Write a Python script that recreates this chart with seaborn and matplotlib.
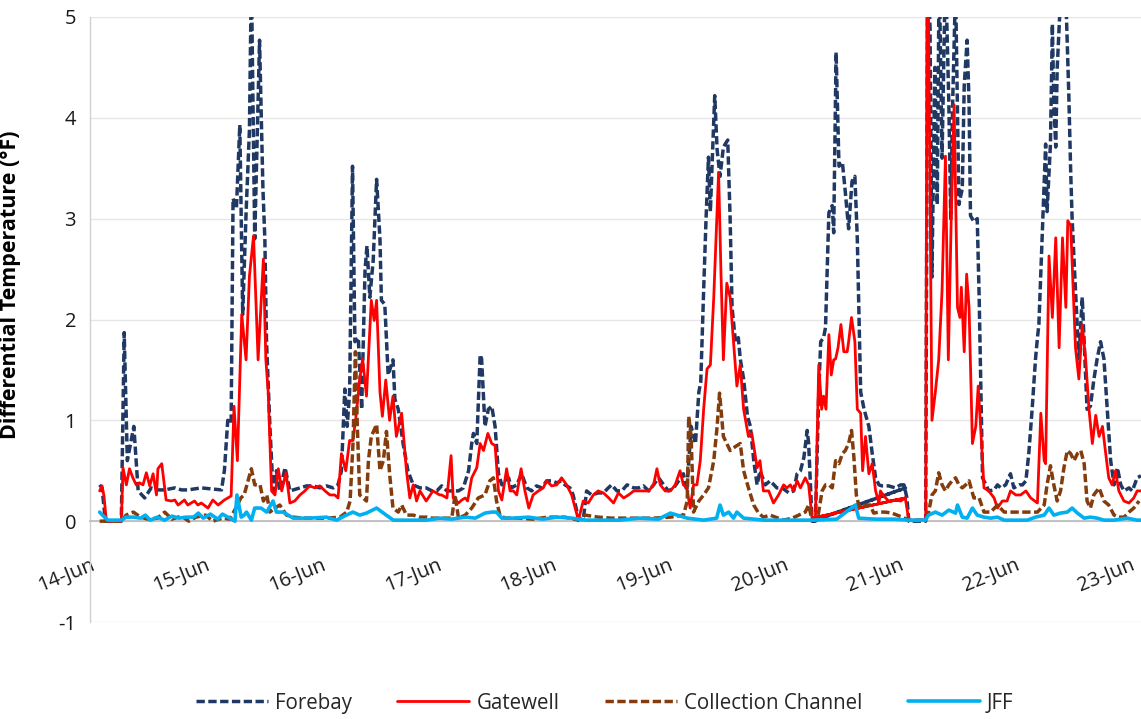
import pandas as pd
import matplotlib
matplotlib.use("Agg")
import matplotlib.pyplot as plt
import matplotlib.dates as mdates
import seaborn as sns

# =============================
# DATA (hours after 14-Jun 00:00, differential temperature in F)
# =============================
START = pd.Timestamp("2019-06-14 00:00")

forebay_hours = [
    2.0, 2.5, 3.2, 6.5, 7.1, 7.75, 9.1, 10.0, 11.35, 12.7, 14.0, 15.5, 17.6, 19.0, 20.3, 21.7,
    23.1, 25.2, 27.3, 27.9, 28.6, 29.3, 29.7, 30.4, 31.1, 31.7, 32.4, 33.1, 33.5, 34.2, 35.2, 35.9,
    36.3, 36.65, 37.35, 38.0, 38.7, 39.4, 40.5, 41.5, 43.6, 45.0, 46.3, 47.7, 49.1, 50.5, 51.5, 52.2,
    52.9, 53.4, 53.9, 54.5, 55.0, 55.7, 56.4, 57.1, 57.5, 58.1, 58.8, 59.5, 60.2, 60.5, 61.2, 61.9,
    62.9, 63.3, 64.0, 65.0, 66.0, 67.1, 68.5, 69.8, 71.0, 72.0, 73.0, 74.1, 75.1, 76.5, 77.5, 78.6,
    79.25, 79.6, 80.3, 81.0, 81.3, 82.0, 82.7, 83.4, 84.1, 84.8, 85.5, 86.2, 86.9, 87.5, 88.6, 89.6,
    90.7, 91.7, 92.7, 93.8, 94.8, 95.85, 96.9, 97.9, 98.6, 99.65, 100.3, 101.4, 102.4, 103.1, 104.15, 105.5,
    106.6, 107.6, 108.3, 109.4, 110.4, 111.5, 112.9, 113.9, 114.9, 116.0, 117.0, 118.05, 119.1, 120.1, 121.2, 122.2,
    123.2, 123.9, 124.8, 125.7, 126.4, 126.8, 127.4, 127.9, 128.4, 128.8, 129.1, 129.7, 130.2, 130.8, 131.5, 132.4,
    132.9, 133.3, 134.0, 134.6, 135.0, 135.7, 136.5, 137.1, 137.8, 138.5, 139.1, 140.2, 141.2, 142.6, 143.7, 145.1,
    146.1, 146.8, 147.5, 148.2, 148.9, 149.2, 149.9, 169.3, 150.0, 150.6, 151.3, 151.7, 152.3, 152.7, 153.4, 154.1,
    154.4, 154.9, 155.5, 156.2, 156.8, 157.5, 158.2, 158.8, 159.3, 160.0, 160.7, 161.7, 162.4, 163.1, 163.8, 164.4,
    165.8, 167.2, 168.3, 169.0, 169.6, 170.0, 173.5, 173.9, 174.4, 174.8, 175.4, 175.9, 176.3, 176.9, 177.6, 178.3,
    178.7, 179.1, 179.7, 180.4, 181.1, 181.5, 182.1, 182.5, 182.8, 183.5, 184.2, 184.6, 184.9, 185.3, 186.0, 186.6,
    187.7, 188.4, 189.1, 190.1, 191.1, 191.8, 192.9, 193.6, 194.3, 194.9, 195.6, 196.3, 196.7, 197.0, 197.7, 198.4,
    198.7, 199.4, 199.8, 200.1, 200.5, 200.8, 201.5, 202.2, 202.6, 203.2, 203.6, 203.9, 204.6, 205.3, 206.0, 206.4,
    207.0, 207.7, 208.4, 209.1, 209.8, 210.5, 211.2, 211.9, 212.6, 213.3, 214.0, 214.7, 215.7, 216.4, 217.4, 218.2,
]
forebay_vals = [
    0.36, 0.33, 0.0, 0.0, 1.87, 0.6, 0.94, 0.3, 0.23, 0.33, 0.31, 0.31, 0.33, 0.31, 0.31, 0.32,
    0.33, 0.32, 0.31, 0.5, 1.0, 0.97, 3.2, 3.1, 3.93, 2.05, 3.05, 3.88, 5.4, 2.8, 4.77, 3.3,
    2.8, 1.78, 0.94, 0.3, 0.5, 0.3, 0.53, 0.3, 0.33, 0.35, 0.35, 0.33, 0.35, 0.33, 0.36, 0.5,
    1.31, 0.94, 1.28, 3.52, 1.78, 1.82, 1.11, 2.49, 2.73, 2.22, 2.59, 3.39, 2.8, 2.19, 2.15, 1.45,
    1.6, 1.21, 1.11, 0.77, 0.5, 0.36, 0.33, 0.33, 0.3, 0.3, 0.35, 0.3, 0.3, 0.3, 0.33, 0.5,
    0.77, 0.87, 0.77, 1.65, 1.61, 0.94, 1.11, 1.14, 0.94, 0.47, 0.36, 0.4, 0.43, 0.33, 0.36, 0.47,
    0.33, 0.3, 0.35, 0.33, 0.4, 0.4, 0.38, 0.4, 0.36, 0.33, 0.26, 0.03, 0.01, 0.3, 0.26, 0.28,
    0.28, 0.33, 0.36, 0.3, 0.3, 0.36, 0.33, 0.33, 0.35, 0.3, 0.36, 0.43, 0.36, 0.3, 0.33, 0.4,
    0.47, 0.3, 0.94, 0.77, 1.28, 1.38, 2.29, 3.0, 3.61, 3.07, 3.47, 4.22, 3.68, 3.42, 3.71, 3.78,
    3.0, 2.12, 1.78, 1.82, 1.61, 1.41, 1.04, 0.94, 0.6, 0.36, 0.5, 0.36, 0.4, 0.33, 0.33, 0.28,
    0.3, 0.47, 0.5, 0.63, 0.9, 0.77, 0.0, 0.33, 0.0, 0.0, 1.28, 1.78, 1.82, 1.92, 3.06, 3.13,
    2.86, 4.65, 3.52, 3.56, 3.27, 2.9, 3.37, 3.42, 2.8, 1.28, 1.11, 0.94, 0.67, 0.43, 0.36, 0.35,
    0.35, 0.33, 0.36, 0.36, 0.23, 0.0, 0.0, 5.5, 4.9, 2.42, 4.5, 3.14, 5.5, 3.6, 5.5, 4.15,
    3.0, 4.15, 5.3, 3.14, 3.3, 4.32, 4.77, 4.15, 3.03, 2.97, 3.0, 2.22, 1.45, 0.43, 0.36, 0.3,
    0.31, 0.36, 0.33, 0.36, 0.47, 0.33, 0.36, 0.36, 0.4, 0.67, 1.11, 1.61, 1.82, 1.95, 2.86, 3.74,
    3.07, 3.74, 4.93, 4.15, 3.71, 4.49, 5.2, 5.3, 5.2, 4.25, 3.47, 3.0, 2.29, 1.61, 2.22, 1.78,
    1.11, 1.14, 1.4, 1.61, 1.78, 1.61, 1.11, 0.6, 0.36, 0.53, 0.36, 0.3, 0.33, 0.3, 0.43, 0.45,
]

gatewell_hours = [
    2.0, 2.5, 2.9, 3.4, 6.5, 6.85, 7.55, 8.2, 8.9, 9.6, 10.3, 11.0, 11.7, 12.4, 13.1, 13.8,
    14.1, 14.9, 15.8, 16.9, 17.6, 18.3, 19.6, 20.3, 21.0, 21.7, 22.4, 23.1, 24.5, 25.5, 26.6, 27.9,
    28.6, 29.3, 29.9, 30.6, 31.5, 32.4, 33.1, 33.95, 34.9, 36.0, 36.5, 37.0, 37.7, 38.4, 39.1, 39.8,
    40.7, 41.5, 42.5, 43.6, 44.6, 45.6, 46.7, 47.7, 48.8, 49.8, 50.8, 51.5, 52.2, 53.1, 53.9, 54.6,
    55.3, 56.0, 56.6, 57.4, 58.4, 59.0, 59.5, 60.2, 60.7, 61.4, 62.2, 62.9, 63.6, 64.7, 65.7, 66.4,
    67.1, 67.8, 68.5, 69.8, 71.2, 72.6, 73.0, 74.1, 74.96, 75.4, 76.5, 77.2, 77.9, 78.4, 79.25, 80.3,
    81.0, 81.7, 82.6, 83.4, 84.1, 84.8, 85.5, 86.5, 87.2, 87.9, 88.6, 89.5, 90.3, 91.1, 92.0, 93.1,
    94.1, 94.8, 95.85, 96.9, 97.9, 98.96, 100.0, 101.4, 102.4, 103.45, 104.5, 105.5, 106.6, 107.7, 108.7, 109.7,
    110.8, 111.8, 112.9, 113.9, 114.9, 116.0, 117.0, 117.7, 118.4, 119.4, 120.5, 121.5, 122.5, 123.2, 123.9, 124.6,
    125.3, 126.0, 126.7, 127.4, 128.1, 128.8, 129.5, 130.5, 131.0, 131.5, 132.2, 132.9, 133.6, 134.3, 135.0, 135.7,
    136.7, 137.4, 138.5, 139.1, 139.8, 140.9, 141.9, 142.95, 144.0, 144.7, 145.4, 146.1, 146.8, 147.5, 148.5, 149.2,
    149.9, 169.3, 150.0, 150.6, 151.3, 151.9, 152.3, 152.8, 153.4, 153.9, 154.4, 154.8, 155.3, 155.9, 156.5, 157.2,
    157.5, 158.1, 158.8, 159.3, 160.0, 160.4, 161.0, 161.7, 162.4, 163.1, 163.8, 164.1, 164.8, 165.8, 167.2, 168.3,
    169.25, 170.0, 173.5, 173.8, 174.0, 174.8, 175.5, 176.2, 176.9, 177.6, 178.2, 178.8, 179.4, 180.1, 180.6, 180.9,
    181.5, 182.0, 182.5, 183.2, 183.9, 184.4, 184.9, 185.6, 186.6, 187.7, 188.4, 189.4, 190.4, 191.1, 192.2, 193.2,
    194.3, 195.3, 196.7, 197.4, 198.1, 198.4, 199.1, 199.8, 200.5, 201.2, 201.9, 202.6, 203.0, 203.6, 204.6, 205.3,
    206.0, 206.7, 207.4, 208.1, 208.8, 209.5, 210.2, 210.8, 211.5, 212.2, 212.9, 213.6, 214.65, 215.7, 216.7, 217.4,
    218.2,
]
gatewell_vals = [
    0.3, 0.35, 0.25, 0.0, 0.0, 0.53, 0.36, 0.52, 0.43, 0.36, 0.38, 0.36, 0.48, 0.35, 0.47, 0.26,
    0.52, 0.57, 0.21, 0.2, 0.21, 0.16, 0.21, 0.16, 0.18, 0.2, 0.16, 0.18, 0.13, 0.21, 0.16, 0.21,
    0.23, 0.25, 1.14, 0.6, 2.05, 1.6, 2.43, 2.83, 1.6, 2.6, 1.61, 1.28, 0.3, 0.26, 0.52, 0.3,
    0.48, 0.18, 0.2, 0.26, 0.3, 0.35, 0.33, 0.35, 0.3, 0.26, 0.26, 0.23, 0.67, 0.5, 0.8, 0.8,
    1.07, 1.41, 1.61, 1.24, 2.19, 1.99, 2.19, 1.28, 1.04, 1.4, 1.0, 1.24, 0.84, 1.07, 0.5, 0.23,
    0.36, 0.2, 0.3, 0.2, 0.3, 0.26, 0.26, 0.23, 0.65, 0.23, 0.18, 0.21, 0.23, 0.2, 0.43, 0.53,
    0.77, 0.7, 0.87, 0.77, 0.75, 0.3, 0.21, 0.52, 0.3, 0.3, 0.26, 0.52, 0.3, 0.13, 0.26, 0.3,
    0.33, 0.4, 0.35, 0.36, 0.43, 0.36, 0.26, 0.01, 0.2, 0.18, 0.26, 0.3, 0.28, 0.23, 0.18, 0.28,
    0.23, 0.26, 0.3, 0.3, 0.3, 0.3, 0.36, 0.52, 0.36, 0.3, 0.3, 0.36, 0.5, 0.36, 0.33, 0.13,
    0.36, 0.36, 0.6, 1.11, 1.51, 1.55, 2.22, 3.46, 2.46, 1.6, 2.36, 2.22, 1.78, 1.34, 1.55, 1.11,
    0.84, 0.87, 0.53, 0.6, 0.3, 0.3, 0.18, 0.26, 0.36, 0.33, 0.36, 0.3, 0.4, 0.33, 0.43, 0.36,
    0.03, 0.23, 0.03, 0.01, 1.55, 1.11, 1.24, 1.11, 1.85, 1.45, 1.6, 1.61, 1.72, 1.95, 1.68, 1.68,
    1.78, 2.02, 1.78, 1.11, 1.07, 0.5, 0.84, 0.47, 0.57, 0.3, 0.18, 0.3, 0.25, 0.2, 0.21, 0.2,
    0.23, 0.01, 0.01, 5.8, 5.5, 1.0, 1.28, 1.6, 2.29, 3.62, 1.6, 3.0, 4.13, 2.12, 2.02, 2.32,
    1.68, 2.45, 2.12, 0.77, 0.94, 1.34, 0.94, 0.33, 0.3, 0.23, 0.13, 0.2, 0.2, 0.3, 0.26, 0.26,
    0.3, 0.23, 0.18, 1.07, 0.6, 0.57, 2.63, 2.02, 2.81, 1.72, 2.81, 2.12, 2.98, 2.93, 1.72, 1.41,
    1.95, 1.61, 1.11, 0.77, 1.05, 0.84, 0.94, 0.7, 0.43, 0.36, 0.5, 0.3, 0.2, 0.18, 0.23, 0.3,
    0.3,
]

collection_hours = [
    2.0, 4.0, 6.5, 7.5, 9.0, 10.5, 12.0, 14.0, 15.5, 17.0, 19.0, 20.5, 22.0, 24.0, 25.5, 27.5,
    29.0, 30.5, 31.3, 32.0, 33.5, 34.2, 35.3, 36.0, 36.7, 37.35, 38.4, 39.4, 40.8, 42.2, 44.3, 46.3,
    49.1, 51.9, 53.3, 54.0, 54.6, 55.1, 55.5, 56.0, 56.7, 57.4, 57.8, 58.4, 59.5, 60.2, 60.9, 61.55,
    62.2, 62.9, 64.0, 64.7, 65.7, 67.1, 68.5, 69.9, 71.0, 73.0, 75.1, 75.8, 76.5, 77.9, 79.25, 80.6,
    82.0, 83.0, 83.75, 84.4, 85.1, 86.2, 89.0, 92.0, 95.0, 98.6, 101.4, 102.8, 105.5, 108.3, 110.1, 113.6,
    117.0, 120.5, 123.2, 124.0, 124.3, 124.8, 125.3, 126.4, 127.4, 128.4, 129.5, 130.2, 130.7, 131.5, 132.2, 132.9,
    134.0, 135.0, 135.7, 136.7, 137.8, 138.8, 139.8, 141.2, 144.0, 145.8, 148.5, 149.2, 149.9, 151.0, 152.0, 152.7,
    153.4, 154.1, 154.8, 155.5, 156.2, 156.8, 157.5, 158.1, 158.6, 159.1, 159.6, 160.3, 161.0, 162.0, 162.7, 163.8,
    165.1, 166.5, 168.6, 170.0, 173.4, 174.1, 174.8, 175.5, 176.2, 176.9, 177.6, 178.3, 179.0, 179.7, 180.4, 181.1,
    181.8, 182.5, 183.5, 184.6, 185.6, 187.0, 188.4, 189.8, 191.1, 192.5, 193.9, 195.3, 196.7, 198.1, 198.7, 199.4,
    200.1, 200.8, 201.5, 202.2, 202.9, 203.6, 204.3, 205.0, 205.7, 206.4, 207.0, 207.7, 208.4, 209.5, 210.5, 211.5,
    212.6, 213.6, 214.7, 215.7, 216.7, 217.8,
]
collection_vals = [
    0.0, 0.0, 0.0, 0.06, 0.09, 0.04, 0.02, 0.03, 0.09, 0.02, 0.05, 0.0, 0.04, 0.06, 0.0, 0.03,
    0.02, 0.15, 0.23, 0.26, 0.52, 0.36, 0.36, 0.2, 0.26, 0.09, 0.13, 0.16, 0.06, 0.04, 0.03, 0.03,
    0.03, 0.04, 0.09, 0.2, 0.77, 1.68, 0.94, 0.26, 0.23, 0.2, 0.6, 0.84, 0.96, 0.5, 0.6, 0.89,
    0.47, 0.13, 0.09, 0.16, 0.06, 0.06, 0.04, 0.04, 0.03, 0.03, 0.03, 0.26, 0.03, 0.06, 0.13, 0.23,
    0.26, 0.4, 0.43, 0.2, 0.06, 0.03, 0.03, 0.02, 0.04, 0.04, 0.01, 0.06, 0.04, 0.03, 0.03, 0.03,
    0.03, 0.04, 0.06, 0.2, 1.04, 0.84, 0.09, 0.2, 0.26, 0.33, 0.6, 0.94, 1.27, 0.84, 0.77, 0.7,
    0.74, 0.77, 0.5, 0.33, 0.16, 0.08, 0.04, 0.06, 0.01, 0.03, 0.09, 0.16, 0.01, 0.01, 0.3, 0.36,
    0.36, 0.33, 0.6, 0.57, 0.67, 0.7, 0.77, 0.9, 0.63, 0.26, 0.16, 0.13, 0.16, 0.16, 0.08, 0.09,
    0.09, 0.08, 0.04, 0.01, 0.01, 0.09, 0.26, 0.3, 0.48, 0.36, 0.3, 0.36, 0.4, 0.43, 0.36, 0.33,
    0.36, 0.4, 0.23, 0.23, 0.09, 0.09, 0.16, 0.09, 0.09, 0.09, 0.09, 0.09, 0.09, 0.16, 0.36, 0.55,
    0.36, 0.2, 0.3, 0.53, 0.7, 0.67, 0.6, 0.67, 0.7, 0.57, 0.2, 0.13, 0.26, 0.33, 0.2, 0.16,
    0.06, 0.04, 0.04, 0.09, 0.13, 0.2,
]

jff_hours = [
    2.0, 2.8, 3.7, 6.5, 7.5, 9.0, 10.5, 11.5, 12.5, 14.0, 15.5, 17.0, 18.5, 20.0, 21.5, 22.5,
    23.5, 25.0, 26.5, 27.5, 29.0, 30.1, 30.5, 31.4, 32.0, 32.5, 33.5, 34.2, 35.5, 36.7, 38.0, 38.7,
    40.1, 42.2, 45.6, 49.1, 51.2, 53.2, 54.6, 56.0, 57.4, 59.5, 61.5, 63.0, 66.4, 69.9, 72.6, 75.0,
    78.0, 80.0, 82.0, 83.4, 84.4, 85.5, 88.0, 91.0, 94.0, 97.0, 100.0, 103.0, 106.0, 108.3, 110.0, 114.0,
    118.0, 120.5, 124.0, 127.4, 130.1, 130.8, 131.5, 132.6, 133.6, 134.3, 135.7, 140.0, 144.0, 145.0, 150.0, 155.0,
    158.9, 159.6, 163.0, 167.0, 170.0, 173.4, 174.1, 175.5, 176.9, 178.3, 179.7, 180.1, 181.1, 182.1, 183.2, 184.2,
    185.6, 187.0, 188.4, 189.8, 191.8, 194.6, 196.3, 198.1, 199.1, 200.1, 201.5, 202.9, 203.9, 205.0, 206.4, 207.7,
    209.1, 210.5, 212.6, 215.3, 217.4, 218.2,
]
jff_vals = [
    0.09, 0.05, 0.01, 0.01, 0.04, 0.04, 0.03, 0.06, 0.01, 0.04, 0.01, 0.05, 0.03, 0.04, 0.04, 0.08,
    0.03, 0.07, 0.02, 0.07, 0.03, 0.0, 0.26, 0.04, 0.06, 0.09, 0.01, 0.13, 0.13, 0.09, 0.2, 0.09,
    0.09, 0.03, 0.03, 0.04, 0.01, 0.06, 0.09, 0.06, 0.08, 0.13, 0.06, 0.01, 0.01, 0.01, 0.03, 0.02,
    0.04, 0.03, 0.08, 0.09, 0.09, 0.03, 0.03, 0.04, 0.02, 0.04, 0.03, 0.01, 0.01, 0.01, 0.01, 0.03,
    0.02, 0.08, 0.03, 0.01, 0.03, 0.16, 0.06, 0.09, 0.03, 0.09, 0.03, 0.01, 0.01, 0.01, 0.01, 0.02,
    0.16, 0.03, 0.02, 0.02, 0.01, 0.01, 0.06, 0.09, 0.06, 0.11, 0.08, 0.16, 0.04, 0.03, 0.13, 0.06,
    0.04, 0.03, 0.04, 0.01, 0.01, 0.01, 0.04, 0.06, 0.13, 0.06, 0.08, 0.09, 0.13, 0.08, 0.03, 0.04,
    0.03, 0.01, 0.01, 0.03, 0.01, 0.01,
]

series_names = ["Forebay", "Gatewell", "Collection Channel", "JFF"]
y_ticks = [-1, 0, 1, 2, 3, 4, 5]

# =============================
# STYLE
# =============================
sns.set_theme(style="white")
plt.rcParams["font.family"] = ["Open Sans", "Noto Sans", "DejaVu Sans"]
plt.rcParams["axes.unicode_minus"] = False

W, H = 1141, 719
fig = plt.figure(figsize=(W / 100, H / 100), dpi=100)
ax = fig.add_axes([90 / W, 1 - 622 / H, 1 - 90 / W, (622 - 17) / H])

styles = [
    (forebay_hours, forebay_vals, "#1F3864", 2.5, (0, (2.4, 1.0))),
    (gatewell_hours, gatewell_vals, "#FF0000", 2.0, "-"),
    (collection_hours, collection_vals, "#843C0C", 2.5, (0, (2.4, 1.0))),
    (jff_hours, jff_vals, "#00B0F0", 2.6, "-"),
]

for name, (hrs, vals, color, lw, ls) in zip(series_names, styles):
    t = START + pd.to_timedelta(hrs, unit="h")
    sns.lineplot(x=t, y=vals, ax=ax, sort=False, estimator=None,
                 color=color, linewidth=lw, linestyle=ls, label=name, zorder=3)

# =============================
# AXES
# =============================
ax.set_ylim(-1, 5)
ax.set_yticks(y_ticks)
ax.set_xlim(START, START + pd.Timedelta(hours=218.2))
ax.xaxis.set_major_locator(mdates.DayLocator())
ax.xaxis.set_major_formatter(mdates.DateFormatter("%-d-%b"))

ax.grid(axis="y", color="#E6E6E6", linewidth=1.0, zorder=0)
ax.grid(axis="x", visible=False)
ax.spines["bottom"].set_position(("data", 0))
ax.spines["bottom"].set_color("#BFBFBF")
ax.spines["bottom"].set_linewidth(1.3)
ax.spines["left"].set_color("#D0D0D0")
ax.spines["left"].set_linewidth(1.0)
ax.spines["top"].set_visible(False)
ax.spines["right"].set_visible(False)

ax.tick_params(axis="y", length=0, pad=10, labelsize=14.5, labelcolor="#1A1A1A")
ax.tick_params(axis="x", length=0, pad=24, labelsize=14.5, labelcolor="#1A1A1A", labelrotation=22)
plt.setp(ax.get_xticklabels(), ha="right", va="top", rotation_mode="anchor")

ax.set_xlabel("")
ax.set_ylabel("Differential Temperature (°F)", fontsize=15.5, fontweight="bold", color="#000000")
ax.yaxis.set_label_coords(-0.066, 0.557)

# =============================
# LEGEND
# =============================
handles, labels = ax.get_legend_handles_labels()
if ax.get_legend() is not None:
    ax.get_legend().remove()
fig.legend(handles, labels, loc="center", bbox_to_anchor=(0.53, 0.022), ncol=4,
           frameon=False, fontsize=14.8, handlelength=3.5, handletextpad=0.35,
           columnspacing=2.2)

fig.savefig("out.png", dpi=100)
plt.close(fig)
